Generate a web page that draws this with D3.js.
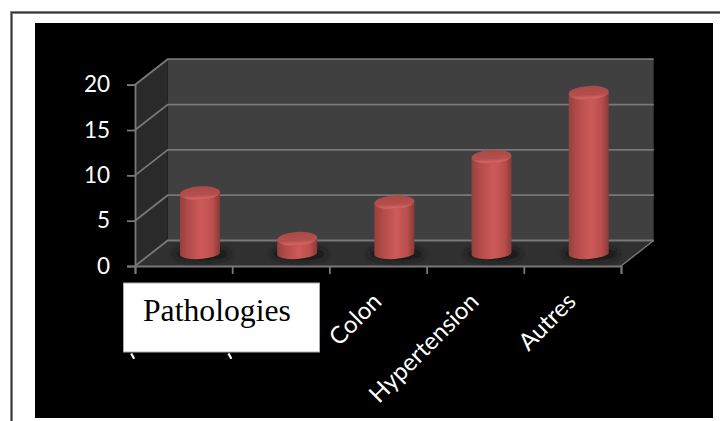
<!DOCTYPE html>
<html><head><meta charset="utf-8">
<script src="https://cdn.jsdelivr.net/npm/d3@7"></script>
<style>html,body{margin:0;padding:0;background:#fff}svg{display:block}</style>
</head><body><svg id="c" width="720" height="421"></svg>
<script>
const categories = ["", "", "Colon", "Hypertension", "Autres"];
const values = [7, 2, 6, 11, 18];
const yTicks = [0, 5, 10, 15, 20];
const boxTitle = "Pathologies";

const svg = d3.select("#c");
const defs = svg.append("defs");
const grad = defs.append("linearGradient").attr("id","cyl").attr("x1",0).attr("x2",1).attr("y1",0).attr("y2",0);
[[0,"#96403e"],[0.2,"#b24b49"],[0.55,"#cd5a59"],[0.82,"#b94f4d"],[1,"#873a38"]]
  .forEach(s=>grad.append("stop").attr("offset",s[0]).attr("stop-color",s[1]));
const capGrad = defs.append("linearGradient").attr("id","cap").attr("x1",0).attr("x2",0).attr("y1",0).attr("y2",1);
[[0,"#a84a48"],[0.65,"#b54f4d"],[0.88,"#d26463"],[1,"#c45554"]]
  .forEach(s=>capGrad.append("stop").attr("offset",s[0]).attr("stop-color",s[1]));
defs.append("filter").attr("id","blur").attr("x","-30%").attr("y","-60%").attr("width","160%").attr("height","220%")
  .append("feGaussianBlur").attr("stdDeviation",3);

// page frame
svg.append("path").attr("d","M11.5,421V12.5H720").attr("fill","none").attr("stroke","#9a9a9a").attr("stroke-width",3);
svg.append("path").attr("d","M11.5,421V12.5H720").attr("fill","none").attr("stroke","#333").attr("stroke-width",1.3);
svg.append("rect").attr("x",35).attr("y",23).attr("width",678).attr("height",395).attr("fill","#000");

const dx = 32.7, dy = -25.5;
const x = d3.scaleBand().domain(d3.range(categories.length)).range([135,621]);
const y = d3.scaleLinear().domain([0,20]).range([266,84.7]);
const grid = "#787878";

const pts = a => a.map(p=>p.join(",")).join(" ");
const x0 = x.range()[0], x1 = x.range()[1], yB = y(0), yT = y(20);
svg.append("polygon").attr("points",pts([[x0+dx,yT+dy],[x1+dx,yT+dy],[x1+dx,yB+dy],[x0+dx,yB+dy]])).attr("fill","#404040");
svg.append("polygon").attr("points",pts([[x0,yT],[x0+dx,yT+dy],[x0+dx,yB+dy],[x0,yB]])).attr("fill","#2a2a2a");
svg.append("polygon").attr("points",pts([[x0,yB],[x0+dx,yB+dy],[x1+dx,yB+dy],[x1,yB]])).attr("fill","#303030");

yTicks.forEach(t=>{
  svg.append("polyline").attr("fill","none").attr("stroke",grid).attr("stroke-width",1.8)
    .attr("points",pts([[x0,y(t)],[x0+dx,y(t)+dy],[x1+dx,y(t)+dy]]));
});
svg.append("line").attr("x1",x1).attr("x2",x1+dx).attr("y1",yB).attr("y2",yB+dy).attr("stroke",grid).attr("stroke-width",1.4);

// axes
const gy = svg.append("g").attr("transform",`translate(${x0},0)`)
  .call(d3.axisLeft(y).tickValues(yTicks).tickSize(8).tickPadding(17));
const gx = svg.append("g").attr("transform",`translate(0,${yB})`)
  .call(d3.axisBottom(d3.scaleLinear().domain([0,5]).range([x0,x1])).ticks(5).tickSize(8).tickFormat(""));
[gy,gx].forEach(g=>{g.selectAll("path,line").attr("stroke",grid).attr("stroke-width",1.8);});
gy.selectAll("text").attr("fill","#fff").style("font","22.5px Lato");

// category labels
svg.append("g").selectAll("text").data(categories).join("text")
  .attr("transform",(d,i)=>`translate(${x(i)+x.bandwidth()/2+5},${yB+37}) rotate(-45)`)
  .attr("text-anchor","end").attr("fill","#fff").style("font","24px Lato").text(d=>d);

// visible ends of the two labels that the white box hides
svg.append("g").selectAll("line").data([0,1]).join("line")
  .attr("x1",i=>x(i)-3.8).attr("y1",353.5).attr("x2",i=>x(i)-0.8).attr("y2",358.8)
  .attr("stroke","#fff").attr("stroke-width",2.2);

// cylinders
const rx = 20, ryTop = 6.8, ryBot = 5.5, tilt = -3.5, baseOff = 3.5;
const cx = i => x(i)+x.bandwidth()/2+dx/2;
const yBar = d3.scaleLinear().domain([0,20]).range([257,74.5]);
const bars = svg.append("g").selectAll("g").data(values).join("g");
bars.append("ellipse").attr("cx",(d,i)=>cx(i)+2).attr("cy",yBar(0)-3).attr("rx",rx+8).attr("ry",6.5)
  .attr("fill","#161616").attr("filter","url(#blur)");
bars.append("path").attr("fill","url(#cyl)")
  .attr("d",(d,i)=>{
    const c=cx(i), t=yBar(d), b=yBar(0)-baseOff;
    return `M${c-rx},${t+1.2}L${c-rx},${b+1.2}A${rx},${ryBot} ${tilt} 0 0 ${c+rx},${b-1.2}L${c+rx},${t-1.2}Z`;
  });
bars.append("ellipse").attr("rx",rx).attr("ry",ryTop).attr("fill","url(#cap)")
  .attr("transform",(d,i)=>`translate(${cx(i)},${yBar(d)}) rotate(${tilt})`);

// overlaid white box
svg.append("rect").attr("x",123.5).attr("y",283).attr("width",196).attr("height",69)
  .attr("fill","#fff").attr("stroke","#aaa").attr("stroke-width",1);
svg.append("text").attr("x",143).attr("y",321).attr("fill","#000")
  .style("font","31.7px 'Liberation Serif'").text(boxTitle);
</script></body></html>
